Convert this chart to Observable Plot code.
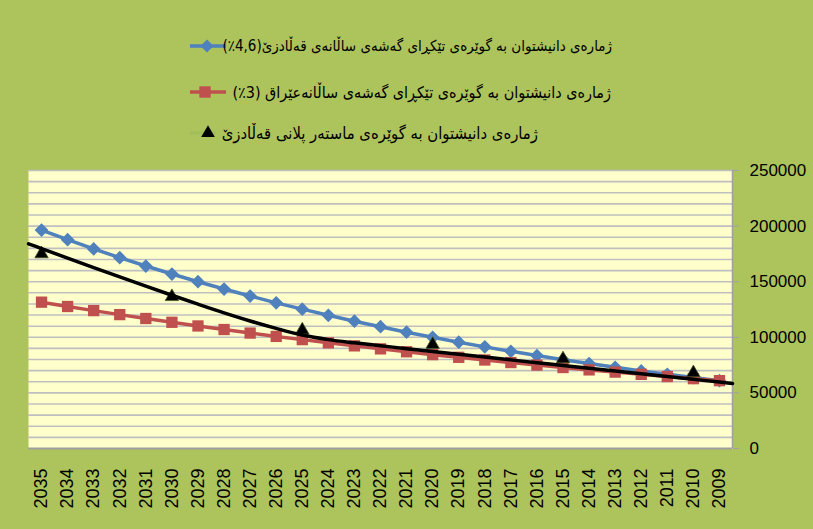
<!DOCTYPE html>
<html><head><meta charset="utf-8">
<script src="https://cdn.jsdelivr.net/npm/d3@7"></script>
<script src="https://cdn.jsdelivr.net/npm/@observablehq/plot@0.6"></script>
<style>html,body{margin:0;padding:0;background:#ffffff} svg{display:block}</style>
</head><body><div id="chart"></div>
<script>
// Categories (years, shown right-to-left as in the source)
const years = [2035,2034,2033,2032,2031,2030,2029,2028,2027,2026,2025,2024,2023,2022,2021,2020,2019,2018,2017,2016,2015,2014,2013,2012,2011,2010,2009];
// Population by Qaladze annual growth rate (4.6%)
const qaladzeGrowth = [196400,187800,179500,171600,164100,156900,150000,143400,137100,131000,125300,119800,114500,109500,104600,100000,95600,91400,87400,83600,79900,76400,73000,69800,66700,63800,61000];
// Population by Iraq annual growth rate (3%)
const iraqGrowth = [131600,127700,124000,120400,116900,113500,110200,107000,103800,100800,97900,95000,92300,89600,87000,84400,82000,79600,77300,75000,72800,70700,68700,66700,64700,62800,61000];
// Population by Qaladze master plan
const masterYears = [2035,2030,2025,2020,2015,2010];
const masterValues = [175000,136500,106500,93500,80500,68000];
// Trend curve through the master-plan values (spans the full category range)
const trendYears = [2035.5,2035,2034,2033,2032,2031,2030,2029,2028,2027,2026,2025,2024,2023,2022,2021,2020,2019,2018,2017,2016,2015,2014,2013,2012,2011,2010,2009,2008.5];
const trendValues = [184100,179800,171200,162700,154300,146000,137800,129800,122000,114700,108000,102000,97900,95000,92400,89800,87200,84700,82200,79700,77200,74700,72200,69700,67200,64700,62200,59700,58500];
// Axis ticks
const yTicks = [0,50000,100000,150000,200000,250000];
const gridValues = [10000,20000,30000,40000,50000,60000,70000,80000,90000,100000,110000,120000,130000,140000,150000,160000,170000,180000,190000,200000,210000,220000,230000,240000,250000];
const xDomain = [2035.5, 2008.5];
const yDomain = [0, 250000];
// Legend labels
const legendLabels = [
  "ژمارەی دانیشتوان بە گوێرەی تێکڕای گەشەی ساڵانەی قەڵادزێ(4,6٪)",
  "ژمارەی دانیشتوان بە گوێرەی تێکڕای گەشەی ساڵانەعێراق (3٪)",
  "ژمارەی دانیشتوان بە گوێرەی ماستەر پلانی قەڵادزێ"
];
const colors = {blue: "#4f81bd", red: "#c0504d", green: "#9bbb59", black: "#000000"};

const blueData = years.map((y, i) => ({year: y, value: qaladzeGrowth[i]}));
const redData = years.map((y, i) => ({year: y, value: iraqGrowth[i]}));
const masterData = masterYears.map((y, i) => ({year: y, value: masterValues[i]}));
const trendData = trendYears.map((y, i) => ({year: y, value: trendValues[i]}));

const chart = Plot.plot({
  width: 813, height: 529,
  marginLeft: 28, marginRight: 81, marginTop: 170, marginBottom: 81,
  style: {background: "#adc35c", fontFamily: "'Liberation Sans', Arial, sans-serif", fontSize: "17px", color: "#000"},
  x: {type: "linear", domain: xDomain},
  y: {domain: yDomain},
  marks: [
    Plot.frame({fill: "#ffffcc", stroke: null}),
    Plot.ruleY(gridValues, {stroke: "#bfbfbf", strokeWidth: 1.6}),
    Plot.ruleY([yDomain[0]], {stroke: "#a0a0a0", strokeWidth: 2}),
    Plot.ruleX([xDomain[1]], {stroke: "#a0a0a0", strokeWidth: 1.5}),
    Plot.axisX(years, {tickSize: 0, tickPadding: 20, tickRotate: -90, tickFormat: d => String(d), label: null, fontSize: 18, fill: "#000"}),
    Plot.axisY(yTicks, {anchor: "right", tickSize: 6, tickPadding: 11, tickFormat: d => String(d), label: null, stroke: "#a0a0a0", fill: "#000", fontSize: 17}),
    Plot.line(blueData, {x: "year", y: "value", stroke: colors.blue, strokeWidth: 3.5}),
    Plot.dot(blueData, {x: "year", y: "value", symbol: "diamond2", r: 6.2, fill: colors.blue, stroke: null}),
    Plot.line(redData, {x: "year", y: "value", stroke: colors.red, strokeWidth: 3.5}),
    Plot.dot(redData, {x: "year", y: "value", symbol: "square2", r: 7.2, fill: colors.red, stroke: null}),
    Plot.dot(masterData, {x: "year", y: "value", symbol: "triangle", r: 5, fill: "#000", stroke: "#445522", strokeWidth: 0.8}),
    Plot.line(trendData, {x: "year", y: "value", stroke: colors.black, strokeWidth: 3.5, curve: "monotone-x"})
  ]
});
document.getElementById("chart").appendChild(chart);

// Legend (drawn at top of the same svg)
const svg = d3.select(chart);
const lg = svg.append("g").attr("font-family", "'DejaVu Sans Condensed', 'DejaVu Sans', sans-serif").attr("fill", "#000");
const entries = [
  {label: legendLabels[0], color: colors.blue, sym: d3.symbolDiamond2, size: 110, y: 46, x0: 190, x1: 226, mx: 207, tx: 612, fs: 15},
  {label: legendLabels[1], color: colors.red, sym: d3.symbolSquare2, size: 165, y: 92, x0: 190, x1: 226, mx: 205, tx: 611, fs: 16},
  {label: legendLabels[2], color: colors.green, sym: d3.symbolTriangle, size: 80, y: 133, x0: 190, x1: 216, mx: 208, tx: 538, fs: 16.5}
];
entries.forEach((e, i) => {
  lg.append("line").attr("x1", e.x0).attr("x2", e.x1).attr("y1", e.y).attr("y2", e.y)
    .attr("stroke", e.color).attr("stroke-width", 3.5).attr("stroke-opacity", i === 2 ? 0.6 : 1);
  lg.append("path").attr("d", d3.symbol(e.sym, e.size)()).attr("transform", `translate(${e.mx},${e.y})`)
    .attr("fill", i === 2 ? "#000" : e.color);
  lg.append("text").attr("x", e.tx).attr("y", e.y).attr("dy", "0.35em").attr("font-size", e.fs)
    .attr("direction", "rtl").attr("text-anchor", "start").text(e.label);
});
</script>
</body></html>
